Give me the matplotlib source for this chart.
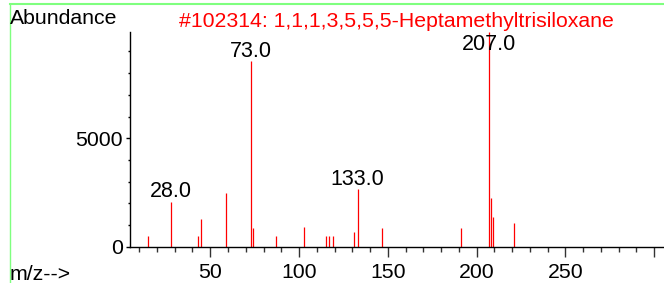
# spectre de masse - #102314
import matplotlib.pyplot as plt
from matplotlib.lines import Line2D
from matplotlib.ticker import MultipleLocator, FixedLocator

plt.rcParams['font.family'] = ['Liberation Sans', 'DejaVu Sans']

# pics (m/z, abondance)
mz = [15, 28, 43, 45, 59, 73, 74, 87, 103, 115, 117, 119, 131, 133, 147, 191, 207, 208, 209, 221]
abundance = [490, 2070, 490, 1275, 2475, 8560, 875, 490, 895, 480, 480, 480, 680, 2645, 880, 880, 9910, 2260, 1370, 1105]
labeled = [28, 73, 133, 207]
title = "#102314: 1,1,1,3,5,5,5-Heptamethyltrisiloxane"

fig = plt.figure(figsize=(6.64, 2.83), dpi=100)
ax = fig.add_axes([130 / 664, 36.3 / 283, 533 / 664, 215 / 283])

ax.vlines(mz, 0, abundance, colors='#ff0000', linewidth=0.9)

# étiquettes des pics (plafonnées en haut du cadre)
cap = 8870
for m, a in zip(mz, abundance):
    if m in labeled:
        ax.annotate(f"{m:.1f}", xy=(m, min(a, cap)), xytext=(0, 3.1),
                    textcoords='offset points', ha='center', va='baseline',
                    fontsize=15.5, color='black')

ax.set_xlim(4.8, 305)
ax.set_ylim(0, 9910)

ax.xaxis.set_major_locator(FixedLocator([50, 100, 150, 200, 250, 300]))
ax.xaxis.set_minor_locator(MultipleLocator(10))
ax.set_xticklabels(['50', '100', '150', '200', '250', ''])
ax.yaxis.set_major_locator(FixedLocator([0, 5000]))
ax.yaxis.set_minor_locator(MultipleLocator(1000))

ax.tick_params(axis='x', which='major', length=7.5, width=1, color='#333333',
               labelsize=15.3, pad=4)
ax.tick_params(axis='x', which='minor', length=3.8, width=1, color='#333333')
ax.tick_params(axis='y', which='major', length=3, width=1, labelsize=15.3, pad=2)
ax.tick_params(axis='y', which='minor', length=1.8, width=1)

for s in ['top', 'right']:
    ax.spines[s].set_visible(False)
for s in ['left', 'bottom']:
    ax.spines[s].set_linewidth(1)

fig.text(10 / 664, (283 - 24) / 283, "Abundance", fontsize=15.3, va='baseline', ha='left')
fig.text(396.5 / 664, (283 - 26.7) / 283, title, fontsize=15.3, color='#ff0000',
         va='baseline', ha='center')
fig.text(10 / 664, (283 - 279.5) / 283, "m/z-->", fontsize=15.3, va='baseline', ha='left')

# cadre vert
fig.add_artist(Line2D([9.5 / 664, 1], [(283 - 4) / 283] * 2, color='#7fff7f', linewidth=1.5))
fig.add_artist(Line2D([9.5 / 664] * 2, [0, (283 - 4) / 283], color='#7fff7f', linewidth=1.0))

fig.savefig('out.png', dpi=100)
